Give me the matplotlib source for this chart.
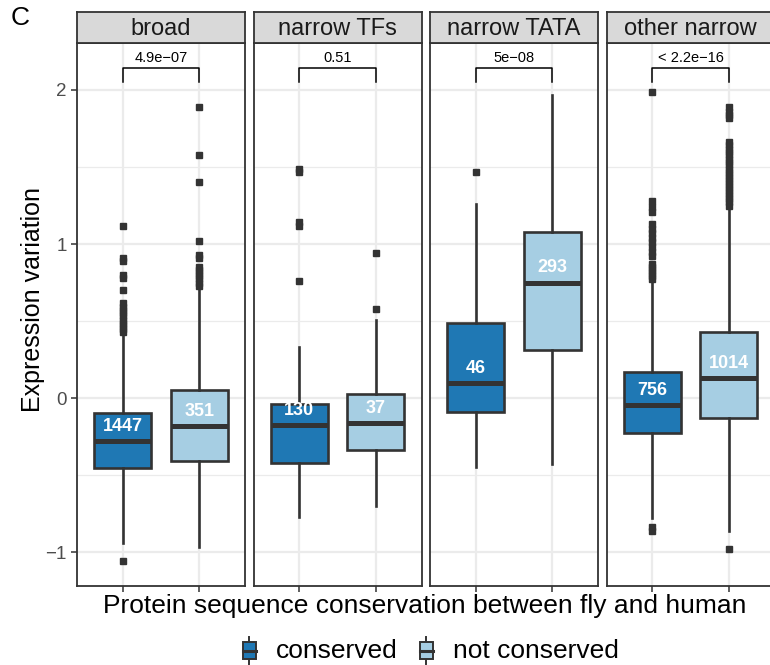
import matplotlib.pyplot as plt
from matplotlib.legend_handler import HandlerBase
from matplotlib.patches import Rectangle, Patch
from matplotlib.lines import Line2D

plt.rcParams['font.family'] = ['Liberation Sans', 'DejaVu Sans']

# ======================
# data
# ======================
groups = ["broad", "narrow TFs", "narrow TATA", "other narrow"]
conditions = ["conserved", "not conserved"]
counts_cons = [1447, 130, 46, 756]
counts_notc = [351, 37, 293, 1014]
pvals = ["4.9e\u221207", "0.51", "5e\u221208", "< 2.2e\u221216"]

# q1, median, q3, lower whisker, upper whisker
stats_cons = [
    (-0.455, -0.28, -0.097, -0.94, 0.41),
    (-0.42, -0.175, -0.04, -0.77, 0.33),
    (-0.09, 0.10, 0.49, -0.45, 1.26),
    (-0.23, -0.045, 0.17, -0.78, 0.75),
]
stats_notc = [
    (-0.41, -0.18, 0.05, -0.97, 0.70),
    (-0.34, -0.165, 0.025, -0.70, 0.51),
    (0.31, 0.75, 1.08, -0.43, 1.97),
    (-0.13, 0.13, 0.43, -0.86, 1.22),
]
fliers_cons = [
    [-1.06, 0.43, 0.45, 0.47, 0.49, 0.51, 0.53, 0.55, 0.57, 0.59, 0.62,
     0.70, 0.78, 0.80, 0.89, 0.91, 1.12],
    [0.76, 1.12, 1.14, 1.47, 1.49],
    [1.47],
    [-0.86, -0.84, 0.77, 0.79, 0.81, 0.83, 0.85, 0.87, 0.92, 0.95, 0.98,
     1.01, 1.04, 1.07, 1.10, 1.13, 1.21, 1.24, 1.28, 1.99],
]
fliers_notc = [
    [0.73, 0.75, 0.77, 0.79, 0.81, 0.83, 0.85, 0.91, 0.93, 1.02, 1.40,
     1.58, 1.89],
    [0.58, 0.94],
    [],
    [-0.98, 1.25, 1.27, 1.29, 1.31, 1.33, 1.35, 1.37, 1.39, 1.41, 1.43,
     1.45, 1.47, 1.49, 1.51, 1.53, 1.55, 1.58, 1.60, 1.62, 1.64, 1.66,
     1.82, 1.84, 1.86, 1.89],
]

colors = ["#1F78B4", "#A6CEE3"]
dark = "#333333"
grid_major = "#EBEBEB"

W, H = 770, 665
fig = plt.figure(figsize=(W / 100, H / 100), dpi=100)

panel_left = [77, 253.5, 430, 606.5]
panel_w = 168
panel_top, panel_bot = 43, 586
strip_top = 12


def stat_dict(s, fl):
    q1, med, q3, lo, hi = s
    return dict(q1=q1, med=med, q3=q3, whislo=lo, whishi=hi, fliers=fl)


for i, g in enumerate(groups):
    ax = fig.add_axes([panel_left[i] / W, 1 - panel_bot / H,
                       panel_w / W, (panel_bot - panel_top) / H])
    ax.set_xlim(0.4, 2.6)
    ax.set_ylim(-1.22, 2.305)

    # grid
    for y in [-1, 0, 1, 2]:
        ax.axhline(y, color=grid_major, lw=1.6, zorder=0)
    for y in [-0.5, 0.5, 1.5]:
        ax.axhline(y, color=grid_major, lw=0.9, zorder=0)
    for x in [1, 2]:
        ax.axvline(x, color=grid_major, lw=1.6, zorder=0)

    bstats = [stat_dict(stats_cons[i], fliers_cons[i]),
              stat_dict(stats_notc[i], fliers_notc[i])]
    bp = ax.bxp(bstats, positions=[1, 2], widths=0.75, patch_artist=True,
                showcaps=False,
                boxprops=dict(edgecolor=dark, linewidth=1.9),
                whiskerprops=dict(color=dark, linewidth=1.9),
                medianprops=dict(color=dark, linewidth=3.6, solid_capstyle='butt'),
                flierprops=dict(marker='s', markersize=4, markerfacecolor=dark,
                                markeredgecolor=dark))
    for patch, c in zip(bp['boxes'], colors):
        patch.set_facecolor(c)

    # counts
    ax.text(1, stats_cons[i][1] + 0.095, str(counts_cons[i]), color="white",
            fontsize=13, fontweight='bold', ha='center', va='center', zorder=5)
    ax.text(2, stats_notc[i][1] + 0.095, str(counts_notc[i]), color="white",
            fontsize=13, fontweight='bold', ha='center', va='center', zorder=5)

    # p-value bracket
    ax.plot([1, 1, 2, 2], [2.05, 2.14, 2.14, 2.05], color="black", lw=1.1)
    ax.text(1.5, 2.165, pvals[i], fontsize=10.5, ha='center', va='bottom')

    for sp in ax.spines.values():
        sp.set_color(dark)
        sp.set_linewidth(1.3)
    ax.set_xticks([1, 2])
    ax.set_xticklabels([])
    ax.set_yticks([-1, 0, 1, 2])
    ax.tick_params(axis='both', length=4, width=1.1, color=dark)
    if i == 0:
        ax.set_yticklabels(["\u22121", "0", "1", "2"], fontsize=13.5, color="#4D4D4D")
    else:
        ax.tick_params(axis='y', length=0)
        ax.set_yticklabels([])

    # strip
    sax = fig.add_axes([panel_left[i] / W, 1 - panel_top / H,
                        panel_w / W, (panel_top - strip_top) / H])
    sax.set_facecolor("#D9D9D9")
    sax.set_xticks([])
    sax.set_yticks([])
    for sp in sax.spines.values():
        sp.set_color(dark)
        sp.set_linewidth(1.3)
    sax.text(0.5, 0.45, g, fontsize=17, color="#1A1A1A", ha='center', va='center',
             transform=sax.transAxes)

fig.text(11 / W, 1 - 18 / H, "C", fontsize=19, va='center', ha='left')
fig.text(33 / W, 1 - 300 / H, "Expression variation", rotation=90, fontsize=18,
         ha='center', va='center')
fig.text(425 / W, 1 - 606 / H,
         "Protein sequence conservation between fly and human",
         fontsize=19, ha='center', va='center')


class BoxKey(HandlerBase):
    def create_artists(self, legend, orig_handle, xd, yd, width, height, fontsize, trans):
        cx = xd + width / 2
        bw = width * 0.8
        bh = height * 1.0
        y0 = yd + height / 2 - bh / 2
        rect = Rectangle((cx - bw / 2, y0), bw, bh, facecolor=orig_handle.get_facecolor(),
                         edgecolor=dark, lw=1.4, transform=trans)
        whisk = Line2D([cx, cx], [y0 - height * 0.3, y0 + bh + height * 0.3],
                       color=dark, lw=1.4, transform=trans)
        med = Line2D([cx - bw / 2, cx + bw / 2], [yd + height / 2] * 2,
                     color=dark, lw=2.2, transform=trans)
        return [whisk, rect, med]


handles = [Patch(facecolor=c) for c in colors]
fig.legend(handles, conditions, handler_map={Patch: BoxKey()},
           loc='center', bbox_to_anchor=(430 / W, 1 - 651 / H), ncol=2,
           frameon=False, fontsize=19, handlelength=0.6, handleheight=0.6,
           handletextpad=0.7, columnspacing=0.8)

fig.savefig("out.png", dpi=100)
